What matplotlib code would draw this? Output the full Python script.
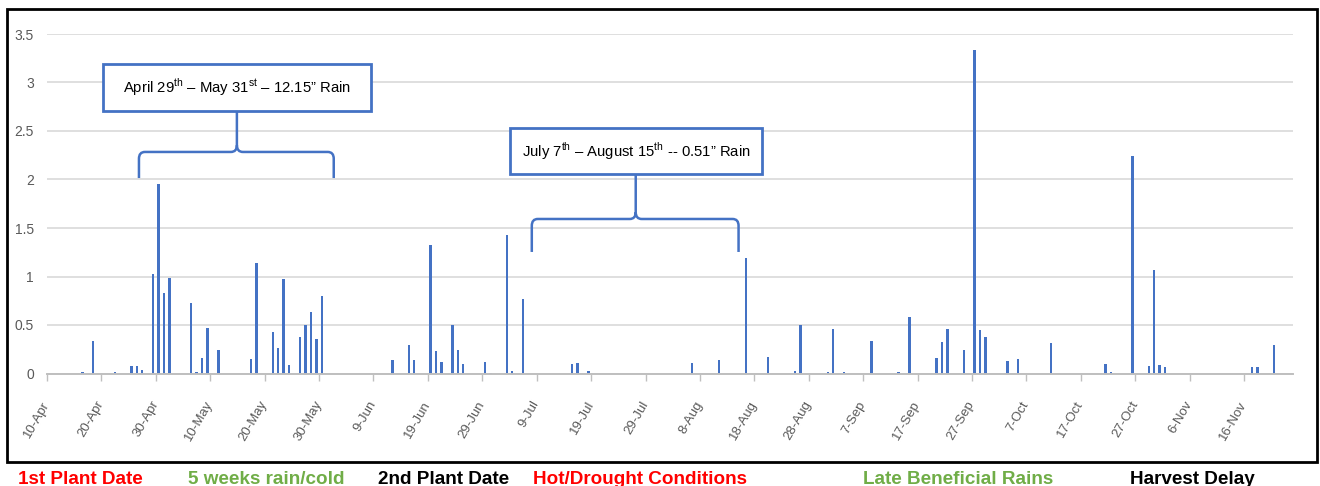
"""
Daily rainfall, 10-Apr to late Nov, with the wet spring / dry summer
periods bracketed and the season events listed under the chart.
"""

import numpy as np
import pandas as pd
import matplotlib.pyplot as plt
from matplotlib.patches import Rectangle, PathPatch
from matplotlib.path import Path

# ── Data ─────────────────────────────────────────────────────
YEAR = "2019"
SEASON_START = "10-Apr"
SEASON_DAYS = 229

rain_dates = [
    "16-Apr", "18-Apr", "22-Apr", "25-Apr", "26-Apr", "27-Apr", "29-Apr",
    "30-Apr", "1-May", "2-May", "6-May", "7-May", "8-May", "9-May",
    "11-May", "17-May", "18-May", "21-May", "22-May", "23-May", "24-May",
    "26-May", "27-May", "28-May", "29-May", "30-May",
    "12-Jun", "15-Jun", "16-Jun", "19-Jun", "20-Jun", "21-Jun", "23-Jun",
    "24-Jun", "25-Jun", "29-Jun", "30-Jun", "3-Jul", "4-Jul", "6-Jul",
    "15-Jul", "16-Jul", "18-Jul", "6-Aug", "11-Aug", "16-Aug", "20-Aug",
    "25-Aug", "26-Aug", "31-Aug", "1-Sep", "3-Sep", "8-Sep", "13-Sep",
    "15-Sep", "20-Sep", "21-Sep", "22-Sep", "25-Sep", "27-Sep", "28-Sep",
    "29-Sep", "3-Oct", "5-Oct", "11-Oct", "21-Oct", "22-Oct", "26-Oct",
    "29-Oct", "30-Oct", "31-Oct", "1-Nov", "17-Nov", "18-Nov", "21-Nov",
]
rain_in = [
    0.02, 0.33, 0.02, 0.08, 0.08, 0.04, 1.03,
    1.95, 0.83, 0.98, 0.73, 0.02, 0.16, 0.47,
    0.24, 0.15, 1.14, 0.43, 0.26, 0.97, 0.09,
    0.38, 0.50, 0.63, 0.36, 0.80,
    0.14, 0.29, 0.14, 1.32, 0.23, 0.12, 0.50,
    0.24, 0.10, 0.12, 0.01, 1.43, 0.03, 0.77,
    0.10, 0.11, 0.03, 0.11, 0.14, 1.19, 0.17,
    0.03, 0.50, 0.02, 0.46, 0.02, 0.34, 0.02,
    0.58, 0.16, 0.32, 0.46, 0.24, 3.34, 0.45,
    0.38, 0.13, 0.15, 0.31, 0.10, 0.02, 2.24,
    0.08, 1.07, 0.09, 0.07, 0.07, 0.07, 0.29,
]

tick_labels = ["10-Apr", "20-Apr", "30-Apr", "10-May", "20-May", "30-May",
               "9-Jun", "19-Jun", "29-Jun", "9-Jul", "19-Jul", "29-Jul",
               "8-Aug", "18-Aug", "28-Aug", "7-Sep", "17-Sep", "27-Sep",
               "7-Oct", "17-Oct", "27-Oct", "6-Nov", "16-Nov"]
y_labels = ["0", "0.5", "1", "1.5", "2", "2.5", "3", "3.5"]

callouts = ["April 29$^{\\mathrm{th}}$ \u2013 May 31$^{\\mathrm{st}}$ \u2013 12.15\u201d Rain",
            "July 7$^{\\mathrm{th}}$ \u2013 August 15$^{\\mathrm{th}}$ -- 0.51\u201d Rain"]

events = ["1st Plant Date", "5 weeks rain/cold", "2nd Plant Date",
          "Hot/Drought Conditions", "Late Beneficial Rains", "Harvest Delay"]


def to_day(s):
    start = pd.to_datetime(f"{SEASON_START}-{YEAR}", format="%d-%b-%Y")
    return (pd.to_datetime(f"{s}-{YEAR}", format="%d-%b-%Y") - start).days


# ── Style ────────────────────────────────────────────────────
plt.rcParams["font.family"] = ["Liberation Sans", "DejaVu Sans"]
plt.rcParams["mathtext.fontset"] = "custom"
plt.rcParams["mathtext.rm"] = "Liberation Sans"

BLUE = "#4472C4"
GRID = "#D9D9D9"
LABEL = "#595959"

W, H = 1320, 486
fig = plt.figure(figsize=(W / 100, H / 100), dpi=100)
ax = fig.add_axes([47 / W, 112.5 / H, 1246 / W, 339.5 / H])

# ── Bars ─────────────────────────────────────────────────────
days = np.array([to_day(d) for d in rain_dates]) + 0.5
ax.bar(days, rain_in, width=0.45, color=BLUE, zorder=2)

ax.set_xlim(0, SEASON_DAYS)
ax.set_ylim(0, 3.5)
ax.set_yticks(np.arange(len(y_labels)) * 0.5)
ax.set_yticklabels(y_labels)
ax.set_xticks([to_day(t) for t in tick_labels])
ax.set_xticklabels(tick_labels, rotation=60, ha="right", va="center",
                   rotation_mode="anchor")

ax.yaxis.grid(True, color=GRID, lw=1.2)
ax.set_axisbelow(True)
for s in ["top", "left", "right"]:
    ax.spines[s].set_visible(False)
ax.spines["bottom"].set_color("#BFBFBF")
ax.spines["bottom"].set_linewidth(1.4)
ax.tick_params(axis="y", length=0, pad=9.4, labelsize=10, labelcolor=LABEL)
ax.tick_params(axis="x", length=5, width=1, color="#BFBFBF", pad=15.5,
               labelsize=9.5, labelcolor=LABEL)


# ── Callouts (box + brace) ───────────────────────────────────
def brace(xl, xr, xc, ybot, ytop, ytip, rx=1.1, ry=0.07):
    v = [(xl, ybot), (xl, ytop - ry), (xl, ytop), (xl + rx, ytop),
         (xc - rx, ytop), (xc, ytop), (xc, ytop + ry), (xc, ytip),
         (xr, ybot), (xr, ytop - ry), (xr, ytop), (xr - rx, ytop),
         (xc + rx, ytop), (xc, ytop), (xc, ytop + ry)]
    c = [Path.MOVETO, Path.LINETO, Path.CURVE3, Path.CURVE3,
         Path.LINETO, Path.CURVE3, Path.CURVE3, Path.LINETO,
         Path.MOVETO, Path.LINETO, Path.CURVE3, Path.CURVE3,
         Path.LINETO, Path.CURVE3, Path.CURVE3]
    ax.add_patch(PathPatch(Path(v, c), fill=False, ec=BLUE, lw=1.8,
                           zorder=4, capstyle="butt"))


boxes = [(10.3, 2.706, 49.2, 0.484), (85.1, 2.057, 46.3, 0.474)]
braces = [(16.9, 52.7, 34.9, 2.015, 2.284), (89.1, 127.1, 108.2, 1.253, 1.593)]

for text, (bx, by, bw, bh), (xl, xr, xc, yb, yt) in zip(callouts, boxes, braces):
    ax.add_patch(Rectangle((bx, by), bw, bh, fc="white", ec=BLUE, lw=2,
                           zorder=5))
    ax.text(bx + bw / 2, by + bh / 2, text, ha="center", va="center",
            fontsize=10.7, color="black", zorder=6)
    brace(xl, xr, xc, yb, yt, by)

# ── Frame and event row ──────────────────────────────────────
fig.add_artist(Rectangle((7 / W, 1 - 461.5 / H), 1310 / W, 452.5 / H,
                         transform=fig.transFigure, fill=False,
                         ec="black", lw=2))

event_x = [18, 188, 378, 533, 863, 1130]
event_c = ["#FF0000", "#70AD47", "black", "#FF0000", "#70AD47", "black"]
for t, x, c in zip(events, event_x, event_c):
    fig.text(x / W, 1 - 484 / H, t, ha="left", va="baseline", color=c,
             fontsize=13.6, fontweight="bold")

plt.savefig("out.png", dpi=100)
